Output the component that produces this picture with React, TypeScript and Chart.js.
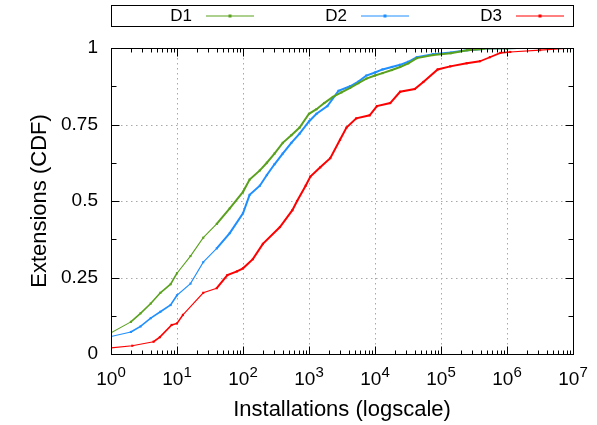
import React, { useEffect, useRef } from "react";
import { Chart, registerables } from "chart.js";

Chart.register(...registerables);

const SERIES_NAMES = ["D1", "D2", "D3"];
const SERIES_COLORS = ["#5aa11e", "#1f8fff", "#ff0000"];

const D1_INSTALLS = [1, 2, 2.8, 4, 5.6, 8, 10, 16, 25, 40, 63, 100, 126, 180, 230, 300, 400, 540, 720, 1000, 1300, 1700, 2300, 3100, 4200, 5600, 7400, 10000, 13000, 18000, 24000, 32000, 43000, 76000, 140000, 250000, 440000, 1000000, 3000000, 10000000];
const D1_CDF = [0.069, 0.105, 0.133, 0.165, 0.2, 0.228, 0.264, 0.32, 0.38, 0.425, 0.476, 0.53, 0.57, 0.6, 0.625, 0.655, 0.69, 0.715, 0.74, 0.785, 0.8, 0.82, 0.84, 0.855, 0.87, 0.885, 0.9, 0.91, 0.918, 0.928, 0.938, 0.95, 0.967, 0.977, 0.983, 0.993, 0.997, 0.998, 1, 1];

const D2_INSTALLS = [1, 2, 2.8, 4, 5.6, 8, 10, 16, 25, 40, 63, 100, 126, 180, 230, 300, 400, 540, 720, 1000, 1300, 1900, 2800, 4200, 5600, 7400, 10000, 13000, 18000, 24000, 32000, 43000, 76000, 140000, 250000, 440000, 1000000, 3000000, 10000000];
const D2_CDF = [0.057, 0.072, 0.09, 0.117, 0.138, 0.16, 0.192, 0.23, 0.3, 0.345, 0.395, 0.46, 0.52, 0.55, 0.585, 0.62, 0.655, 0.69, 0.72, 0.76, 0.785, 0.81, 0.86, 0.875, 0.89, 0.91, 0.92, 0.93, 0.938, 0.945, 0.955, 0.97, 0.98, 0.985, 0.993, 0.997, 0.998, 1, 1];

const D3_INSTALLS = [1, 2.1, 4.4, 5.5, 8.3, 10, 12.3, 25, 40, 58, 81, 100, 141, 200, 363, 560, 660, 890, 1050, 1480, 2100, 2950, 3700, 5200, 8300, 10700, 17000, 24000, 40000, 54000, 89000, 138000, 245000, 390000, 550000, 794000, 1120000, 3160000, 10000000];
const D3_CDF = [0.02, 0.027, 0.04, 0.055, 0.095, 0.1, 0.128, 0.2, 0.215, 0.258, 0.27, 0.28, 0.31, 0.36, 0.415, 0.47, 0.5, 0.55, 0.58, 0.61, 0.64, 0.7, 0.74, 0.77, 0.78, 0.81, 0.82, 0.857, 0.866, 0.889, 0.93, 0.94, 0.95, 0.957, 0.97, 0.984, 0.987, 0.993, 1.0];

const X_DECADES = [1, 10, 100, 1000, 10000, 100000, 1000000, 10000000];
const X_EXPONENTS = ["0", "1", "2", "3", "4", "5", "6", "7"];
const Y_TICKS = [0, 0.25, 0.5, 0.75, 1];
const Y_MINOR = [0.125, 0.375, 0.625, 0.875];

const X_TITLE = "Installations (logscale)";
const Y_TITLE = "Extensions (CDF)";

const FONT = "'Liberation Sans', Arial, sans-serif";

const framePlugin = {
  id: "gnuplotFrame",
  beforeDatasetsDraw(chart: any) {
    const { ctx, chartArea: a, scales } = chart;
    const xs = scales.x;
    const ys = scales.y;
    ctx.save();
    ctx.strokeStyle = "#a8a8a8";
    ctx.lineWidth = 1;
    ctx.setLineDash([1.5, 3.5]);
    X_DECADES.slice(1, -1).forEach((v) => {
      const px = Math.round(xs.getPixelForValue(v)) + 0.5;
      ctx.beginPath();
      ctx.moveTo(px, a.top);
      ctx.lineTo(px, a.bottom);
      ctx.stroke();
    });
    Y_TICKS.slice(1, -1).forEach((v) => {
      const py = Math.round(ys.getPixelForValue(v)) + 0.5;
      ctx.beginPath();
      ctx.moveTo(a.left, py);
      ctx.lineTo(a.right, py);
      ctx.stroke();
    });
    ctx.restore();
  },
  afterDatasetsDraw(chart: any) {
    const { ctx, chartArea: a, scales } = chart;
    const xs = scales.x;
    const ys = scales.y;
    ctx.save();
    ctx.setLineDash([]);
    ctx.strokeStyle = "#000";
    ctx.lineWidth = 1;
    const L = Math.round(a.left) + 0.5;
    const R = Math.round(a.right) + 0.5;
    const T = Math.round(a.top) + 0.5;
    const B = Math.round(a.bottom) + 0.5;
    ctx.strokeRect(L, T, R - L, B - T);
    const vline = (x: number, y1: number, y2: number) => {
      ctx.beginPath();
      ctx.moveTo(x, y1);
      ctx.lineTo(x, y2);
      ctx.stroke();
    };
    const hline = (y: number, x1: number, x2: number) => {
      ctx.beginPath();
      ctx.moveTo(x1, y);
      ctx.lineTo(x2, y);
      ctx.stroke();
    };
    for (let d = 0; d < X_DECADES.length; d++) {
      const base = X_DECADES[d];
      const px = Math.round(xs.getPixelForValue(base)) + 0.5;
      vline(px, B, B - 8);
      vline(px, T, T + 8);
      if (d < X_DECADES.length - 1) {
        for (let m = 2; m <= 9; m++) {
          const mx = Math.round(xs.getPixelForValue(base * m)) + 0.5;
          vline(mx, B, B - 4);
          vline(mx, T, T + 4);
        }
      }
    }
    Y_TICKS.forEach((v) => {
      const py = Math.round(ys.getPixelForValue(v)) + 0.5;
      hline(py, L, L + 8);
      hline(py, R, R - 8);
    });
    Y_MINOR.forEach((v) => {
      const py = Math.round(ys.getPixelForValue(v)) + 0.5;
      hline(py, L, L + 5);
      hline(py, R, R - 5);
    });

    ctx.fillStyle = "#000";
    ctx.textBaseline = "alphabetic";
    X_DECADES.forEach((v, i) => {
      const px = xs.getPixelForValue(v);
      ctx.font = `19px ${FONT}`;
      const wb = ctx.measureText("10").width;
      ctx.font = `15px ${FONT}`;
      const we = ctx.measureText(X_EXPONENTS[i]).width;
      const start = px - (wb + we) / 2;
      ctx.font = `19px ${FONT}`;
      ctx.textAlign = "left";
      ctx.fillText("10", start, 385);
      ctx.font = `15px ${FONT}`;
      ctx.fillText(X_EXPONENTS[i], start + wb, 377);
    });

    ctx.font = `22px ${FONT}`;
    ctx.textAlign = "center";
    ctx.textBaseline = "middle";
    ctx.fillText(X_TITLE, (a.left + a.right) / 2, 410);
    ctx.save();
    ctx.translate(40, (a.top + a.bottom) / 2);
    ctx.rotate(-Math.PI / 2);
    ctx.fillText(Y_TITLE, 0, 0);
    ctx.restore();

    ctx.strokeStyle = "#000";
    ctx.lineWidth = 1;
    ctx.strokeRect(L, 5.5, R - L, 21);
    const textRight = [192, 347, 502];
    ctx.font = `17px ${FONT}`;
    ctx.textAlign = "right";
    ctx.textBaseline = "middle";
    SERIES_NAMES.forEach((name, i) => {
      ctx.fillStyle = "#000";
      ctx.fillText(name, textRight[i], 16.5);
      const x1 = textRight[i] + 14;
      const x2 = x1 + 48;
      ctx.strokeStyle = SERIES_COLORS[i];
      ctx.lineWidth = 1;
      ctx.beginPath();
      ctx.moveTo(x1, 16);
      ctx.lineTo(x2, 16);
      ctx.stroke();
      ctx.fillStyle = SERIES_COLORS[i];
      ctx.fillRect((x1 + x2) / 2 - 1.5, 14.5, 3, 3);
    });
    ctx.restore();
  },
};

export default function App() {
  const ref = useRef<HTMLCanvasElement | null>(null);
  useEffect(() => {
    if (!ref.current) return;
    const mk = (xs: number[], ys: number[]) => xs.map((x, i) => ({ x, y: ys[i] }));
    const sets = [
      mk(D1_INSTALLS, D1_CDF),
      mk(D2_INSTALLS, D2_CDF),
      mk(D3_INSTALLS, D3_CDF),
    ];
    const chart = new Chart(ref.current, {
      type: "line",
      data: {
        datasets: sets.map((d, i) => ({
          label: SERIES_NAMES[i],
          data: d,
          borderColor: SERIES_COLORS[i],
          backgroundColor: SERIES_COLORS[i],
          borderWidth: 1.2,
          segment: {
            borderWidth: (c: any) => {
              const dx = Math.abs(c.p1.x - c.p0.x);
              return c.p0.parsed.x >= 40 && c.p0.parsed.x < 300000 ? 2 : dx > 12 ? 1.1 : 1.6;
            },
          },
          pointStyle: "rect",
          pointRadius: 1.5,
          pointBorderWidth: 0,
          tension: 0,
          fill: false,
        })),
      },
      options: {
        animation: false,
        responsive: false,
        devicePixelRatio: 1,
        layout: { padding: { top: 48, right: 24, left: 0, bottom: 0 } },
        plugins: { legend: { display: false }, tooltip: { enabled: false } },
        scales: {
          x: {
            type: "logarithmic",
            min: 1,
            max: 10000000,
            ticks: { display: false },
            grid: { display: false },
            border: { display: false },
            afterFit: (s: any) => {
              s.height = 71;
            },
          },
          y: {
            type: "linear",
            min: 0,
            max: 1,
            afterBuildTicks: (s: any) => {
              s.ticks = Y_TICKS.map((v) => ({ value: v }));
            },
            ticks: {
              padding: 13,
              color: "#000",
              font: { family: FONT, size: 19 },
              callback: (v: any) => String(v),
            },
            grid: { display: false, drawTicks: false },
            border: { display: false },
            afterFit: (s: any) => {
              s.width = 111;
            },
          },
        },
      },
      plugins: [framePlugin],
    } as any);
    return () => chart.destroy();
  }, []);
  return (
    <div style={{ position: "fixed", left: 0, top: 0, width: 597, height: 425, background: "#fff" }}>
      <canvas ref={ref} width={597} height={425} style={{ width: 597, height: 425 }} />
    </div>
  );
}
